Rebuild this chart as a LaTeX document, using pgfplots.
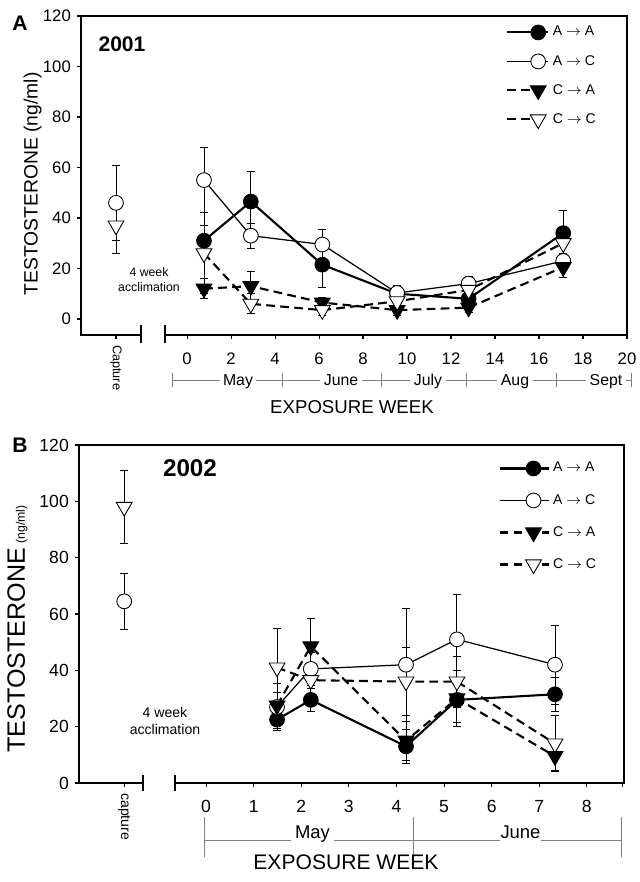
\documentclass[border=0pt]{standalone}
\usepackage{pgfplots}
\pgfplotsset{compat=1.18}
\usepackage{fontspec}
\setmainfont{Liberation Sans}

% 1 px of the reference = 0.02cm
\pgfplotsset{
  panel/.style={
    scale only axis, clip=false,
    axis line style={line width=1pt},
    tick align=outside, xtick pos=bottom, ytick pos=left,
    major tick length=0.08cm,
    tick style={black, line width=0.6pt},
    ymax=120, ytick={0,20,...,120},
    tick label style={font=\fontsize{9.5}{11}\selectfont},
    /pgf/number format/assume math mode=true,
    xticklabel style={yshift=-0.15cm},
    extra x tick style={xticklabel style={yshift=0.15cm, rotate=-90, anchor=west}},
    legend cell align=left,
    legend style={draw=none, fill=none, inner sep=0pt, anchor=north west,
      font=\fontsize{8}{10}\selectfont},
  },
  aa/.style={black, line width=1.2pt, mark=*, mark size=4.2pt,
    mark options={solid, fill=black, line width=0.5pt}},
  ac/.style={black, line width=0.7pt, mark=*, mark size=4.2pt,
    mark options={solid, fill=white, line width=0.5pt}},
  ca/.style={black, line width=1.2pt, dash pattern=on 5pt off 3pt,
    mark=triangle*, mark size=5.2pt,
    mark options={solid, rotate=180, fill=black, line width=0.5pt}},
  cc/.style={black, line width=1.2pt, dash pattern=on 5pt off 3pt,
    mark=triangle*, mark size=5.2pt,
    mark options={solid, rotate=180, fill=white, line width=0.5pt}},
  eb/.style={error bars/y dir=both, error bars/y explicit,
    error bars/error bar style={solid, line width=0.5pt},
    error bars/error mark options={solid, rotate=90, mark size=0.08cm, line width=0.5pt}},
}

\begin{document}
\begin{tikzpicture}
\useasboundingbox (0,0) rectangle (12.78,17.64);

%%% panel A (2001)
\begin{axis}[panel, at={(1.62cm,10.94cm)}, anchor=south west,
  width=10.92cm, height=6.38cm,
  xmin=-4.82, xmax=20, ymin=-6.34,
  xtick={0,2,...,20},
  extra x ticks={-3.23}, extra x tick labels={Capture},
  extra x tick style={xticklabel style={font=\fontsize{7.2}{9}\selectfont}},
  legend style={at={(rel axis cs:0.778,0.995)}},
  legend image code/.code={\path[draw=none,fill=none] (0cm,-0.29cm) -- (0cm,0.29cm);
    \draw[mark repeat=2,mark phase=2,#1] plot coordinates {(0cm,0cm) (0.62cm,0cm) (0.82cm,0cm)};},
]
\addplot[aa, eb] coordinates {
  (0.77,31) +- (0,6) (2.9,46.5) +- (0,12) (6.15,21.5) +- (0,9)
  (9.55,10) +- (0,2) (12.8,8) +- (0,2) (17.1,34) +- (0,9)};
\addlegendentry{A $\rightarrow$ A}
\addplot[ac, eb] coordinates {
  (0.77,55) +- (0,13) (2.9,33) +- (0,5) (6.15,29.5) +- (0,6)
  (9.55,10.3) +- (0,3) (12.8,14) +- (0,3) (17.1,23) +- (0,3)};
\addlegendentry{A $\rightarrow$ C}
\addplot[ca, eb] coordinates {
  (0.77,12) +- (0,4) (2.9,13) +- (0,6) (6.15,6.5) +- (0,2)
  (9.55,3.5) +- (0,2) (12.8,4.5) +- (0,2) (17.1,20.5) +- (0,4)};
\addlegendentry{C $\rightarrow$ A}
\addplot[cc, eb] coordinates {
  (0.77,26) +- (0,16) (2.9,6) +- (0,4) (6.15,3.5) +- (0,2)
  (9.55,7) +- (0,2) (12.8,11.5) +- (0,3) (17.1,30) +- (0,4)};
\addlegendentry{C $\rightarrow$ C}
% capture values
\addplot[ac, eb, only marks, forget plot] coordinates {(-3.23,46) +- (0,15)};
\addplot[cc, eb, only marks, forget plot] coordinates {(-3.23,37) +- (0,11)};
\end{axis}

% axis break
\fill[white] (2.84,10.90) rectangle (3.28,10.98);
\draw[line width=0.6pt] (2.82,10.78) -- (2.82,11.14) (3.30,10.78) -- (3.30,11.14);
% months
\begin{scope}[gray, line width=0.5pt]
  \draw (3.44,10.04) -- (12.62,10.04);
  \foreach \x in {3.44,5.64,7.62,9.32,11.12,12.62} \draw (\x,9.90) -- (\x,10.18);
\end{scope}
\foreach \x/\m in {4.76/May,6.82/June,8.56/July,10.30/Aug,12.12/Sept}
  \node[fill=white, inner sep=2pt, anchor=base, font=\fontsize{9}{11}\selectfont] at (\x,9.93) {\m};
\node[font=\fontsize{10.6}{12}\selectfont] at (7.04,9.50) {EXPOSURE WEEK};
\node[rotate=90, anchor=base, font=\fontsize{11}{13}\selectfont] at (0.75,13.96) {TESTOSTERONE (ng/ml)};
\node[font=\bfseries\fontsize{12}{14}\selectfont] at (0.40,17.18) {A};
\node[font=\bfseries\fontsize{12}{14}\selectfont] at (2.44,16.76) {2001};
\node[align=center, font=\fontsize{7}{8.5}\selectfont] at (2.98,12.04) {4 week\\acclimation};

%%% panel B (2002)
\begin{axis}[panel, at={(1.58cm,1.98cm)}, anchor=south west,
  width=10.9cm, height=6.76cm,
  xmin=-2.67, xmax=8.78, ymin=0,
  xtick={0,...,8},
  extra x ticks={-1.72,8.74}, extra x tick labels={capture,{}},
  extra x tick style={xticklabel style={font=\fontsize{8}{10}\selectfont}},
  tick label style={font=\fontsize{10}{12}\selectfont},
  legend style={at={(rel axis cs:0.769,0.979)}},
  legend image code/.code={\path[draw=none,fill=none] (0cm,-0.32cm) -- (0cm,0.32cm);
    \draw[mark repeat=2,mark phase=2,#1] plot coordinates {(0cm,0cm) (0.68cm,0cm) (0.98cm,0cm)};},
]
\addplot[aa, eb] coordinates {
  (1.49,22.5) +- (0,4) (2.2,29.5) +- (0,4) (4.2,13) +- (0,6)
  (5.27,29.5) +- (0,8) (7.33,31.5) +- (0,6)};
\addlegendentry{A $\rightarrow$ A}
\addplot[ac, eb] coordinates {
  (1.49,27) +- (0,5) (2.2,40.5) +- (0,6) (4.2,42) +- (0,20)
  (5.27,51) +- (0,16) (7.33,42) +- (0,14)};
\addlegendentry{A $\rightarrow$ C}
\addplot[ca, eb] coordinates {
  (1.49,27.5) +- (0,8) (2.2,48.5) +- (0,10) (4.2,15) +- (0,7)
  (5.27,30) +- (0,10) (7.33,9.5) +- (0,5)};
\addlegendentry{C $\rightarrow$ A}
\addplot[cc, eb] coordinates {
  (1.49,41) +- (0,14) (2.2,36.5) +- (0,6) (4.2,36) +- (0,12)
  (5.27,36) +- (0,9) (7.33,14) +- (0,10)};
\addlegendentry{C $\rightarrow$ C}
% capture values
\addplot[ac, eb, only marks, forget plot] coordinates {(-1.72,64.5) +- (0,10)};
\addplot[cc, eb, only marks, forget plot] coordinates {(-1.72,98) +- (0,13)};
\end{axis}

% axis break
\fill[white] (2.88,1.94) rectangle (3.48,2.02);
\draw[line width=0.6pt] (2.86,1.82) -- (2.86,2.14) (3.50,1.82) -- (3.50,2.14);
% months
\begin{scope}[gray, line width=0.5pt]
  \draw (4.08,0.84) -- (5.82,0.84) (6.68,0.84) -- (10.0,0.84) (10.82,0.84) -- (12.42,0.84);
  \foreach \x in {4.08,8.26,12.42} \draw (\x,0.5) -- (\x,1.3);
\end{scope}
\node[anchor=base, font=\fontsize{10.5}{12}\selectfont] at (6.25,0.86) {May};
\node[anchor=base, font=\fontsize{10.5}{12}\selectfont] at (10.41,0.86) {June};
\node[font=\fontsize{12}{14}\selectfont] at (6.92,0.40) {EXPOSURE WEEK};
\node[rotate=90, anchor=base, font=\fontsize{14.3}{16}\selectfont] at (0.50,5.06)
  {TESTOSTERONE\,{\fontsize{7}{8}\selectfont(ng/ml)}};
\node[font=\bfseries\fontsize{12}{14}\selectfont] at (0.40,8.74) {B};
\node[font=\bfseries\fontsize{13.8}{16}\selectfont] at (3.80,8.28) {2002};
\node[align=center, font=\fontsize{8}{9.5}\selectfont] at (3.30,3.22) {4 week\\acclimation};
\end{tikzpicture}
\end{document}
